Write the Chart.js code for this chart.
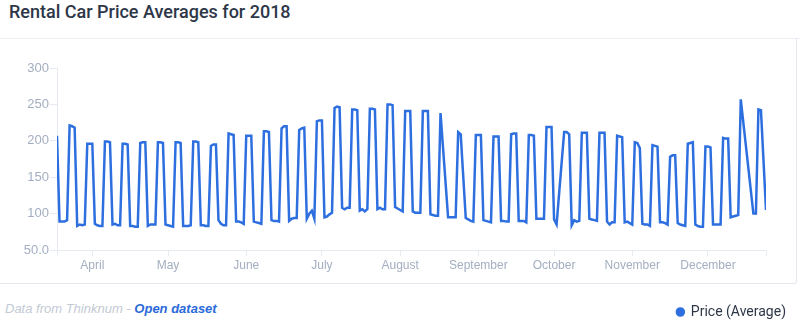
<!DOCTYPE html>
<html>
<head>
<meta charset="utf-8">
<script src="https://cdn.jsdelivr.net/npm/chart.js@4/dist/chart.umd.min.js"></script>
<style>
  html, body { margin: 0; padding: 0; background: #fff; overflow: hidden; width: 800px; height: 323px; }
  #title { position: absolute; left: 9px; top: 1px; font: 500 18px Roboto, "Liberation Sans", sans-serif; line-height: 22px; color: #2d3748; white-space: nowrap; }
  #divider { position: absolute; left: 0; top: 38px; width: 800px; height: 1px; background: #edf0f4; }
  #card { position: absolute; left: 0; top: 38px; width: 796px; height: 245px; border-right: 1px solid #e4e8ee; border-bottom: 1px solid #e4e8ee; border-bottom-right-radius: 3px; box-sizing: content-box; }
  #footer { position: absolute; left: 5px; top: 301px; font: italic 13px "Liberation Sans", Arial, sans-serif; line-height: 15px; color: #c3cad5; white-space: nowrap; }
  #footer b { color: #2a6ad9; font-weight: bold; }
  #wrap { position: absolute; left: 0; top: 38px; width: 800px; height: 291px; }
</style>
</head>
<body>
<div id="title">Rental Car Price Averages for 2018</div>
<div id="divider"></div>
<div id="card"></div>
<div id="footer">Data from Thinknum - <b>Open dataset</b></div>
<div id="wrap"><canvas id="c" width="800" height="291"></canvas></div>
<script>
// ---- data (2018, daily; days without data are simply absent) ----
const dates = [
  '03-18','03-19','03-20','03-21','03-22','03-23','03-24','03-25','03-26','03-27','03-28','03-29','03-30','03-31',
  '04-01','04-02','04-03','04-04','04-05','04-06','04-07','04-08','04-09','04-10','04-11','04-12','04-13','04-14','04-15',
  '04-16','04-17','04-18','04-19','04-20','04-21','04-22','04-23','04-24','04-25','04-26','04-27','04-28','04-29','04-30',
  '05-01','05-02','05-03','05-04','05-05','05-06','05-07','05-08','05-09','05-10','05-11','05-12','05-13','05-14','05-15',
  '05-16','05-17','05-18','05-19','05-20','05-21','05-22','05-23','05-24','05-25','05-26','05-27','05-28','05-29','05-30','05-31',
  '06-01','06-02','06-03','06-04','06-05','06-06','06-07','06-08','06-09','06-10','06-11','06-12','06-13','06-14','06-15',
  '06-16','06-17','06-18','06-19','06-20','06-21','06-22','06-23','06-24','06-25','06-26','06-27','06-28','06-29','06-30',
  '07-01','07-02','07-03','07-04','07-05','07-06','07-07','07-08','07-09','07-10','07-11','07-12','07-13','07-14','07-15',
  '07-16','07-17','07-18','07-19','07-20','07-21','07-22','07-23','07-24','07-25','07-26','07-27','07-28','07-29','07-30','07-31',
  '08-01','08-02','08-03','08-04','08-05','08-06','08-07','08-08','08-09','08-10','08-11','08-12','08-13','08-14','08-15',
  '08-16','08-17','08-20','08-21','08-22','08-23','08-24','08-25','08-27','08-28','08-29','08-30','08-31',
  '09-01','09-02','09-03','09-04','09-05','09-06','09-07','09-08','09-09','09-10','09-11','09-12','09-13','09-14','09-15',
  '09-16','09-17','09-18','09-19','09-20','09-21','09-22','09-23','09-24','09-25','09-26','09-27','09-28','09-29','09-30',
  '10-01','10-02','10-05','10-06','10-07','10-08','10-09','10-10','10-11','10-12','10-13','10-14','10-15',
  '10-16','10-17','10-18','10-19','10-20','10-21','10-22','10-23','10-24','10-25','10-26','10-27','10-28','10-29','10-30','10-31',
  '11-01','11-02','11-03','11-04','11-05','11-06','11-07','11-08','11-09','11-10','11-11','11-12','11-13','11-14','11-15',
  '11-16','11-17','11-18','11-19','11-20','11-21','11-22','11-23','11-24','11-25','11-26','11-27','11-28','11-29','11-30',
  '12-01','12-02','12-03','12-04','12-05','12-06','12-07','12-08','12-09','12-10','12-11','12-12','12-13','12-14',
  '12-19','12-20','12-21','12-22','12-24'
];
const prices = [
  207,89,89,89,91,221,220,218,83,85,84,85,196,196,
  196,86,84,83,83,199,199,198,85,86,84,84,196,196,195,
  83,83,82,82,197,198,198,83,85,85,85,198,198,197,85,
  84,83,82,198,198,197,83,83,83,84,199,199,198,84,84,
  83,83,193,195,195,91,86,84,84,210,209,208,89,89,88,86,
  207,207,207,89,88,87,86,213,213,212,91,90,90,89,217,
  220,220,90,93,94,94,215,217,218,93,100,104,93,227,228,
  228,95,96,99,101,245,247,246,108,106,108,108,243,243,242,
  104,106,103,106,244,244,243,106,108,106,106,250,250,249,109,107,
  105,103,241,241,241,103,101,101,101,241,241,241,99,98,97,
  97,238,95,95,95,95,212,209,94,92,90,89,208,
  208,208,91,90,89,88,206,206,206,90,90,89,89,209,210,
  210,90,90,90,88,208,208,207,93,93,93,93,219,219,219,
  92,85,212,212,209,84,91,89,90,211,211,211,93,
  92,91,90,211,211,211,89,85,88,88,207,206,205,88,89,87,
  85,198,197,190,86,85,85,83,194,193,192,88,88,87,85,
  178,180,180,87,85,84,83,196,197,198,85,83,82,82,192,
  192,191,85,85,85,85,204,203,203,95,96,97,98,257,
  100,100,243,242,105
];
const seriesLabel = 'Price (Average)';
const monthNames = ['April','May','June','July','August','September','October','November','December'];
const monthStarts = ['04-01','05-01','06-01','07-01','08-01','09-01','10-01','11-01','12-01'];
const yTicks = [50, 100, 150, 200, 250, 300];

// day-of-year helper (2018)
function doy(md) {
  const [m, d] = md.split('-').map(Number);
  return Math.round((Date.UTC(2018, m - 1, d) - Date.UTC(2018, 0, 1)) / 86400000) + 1;
}
const points = dates.map((d, i) => ({ x: doy(d), y: prices[i] }));
const monthDays = monthStarts.map(doy);
const xMin = points[0].x, xMax = points[points.length - 1].x;

const tickColor = '#a3aec0';
const lineColor = '#e6ebf1';

new Chart(document.getElementById('c'), {
  type: 'line',
  data: {
    datasets: [{
      label: seriesLabel,
      data: points,
      borderColor: '#2e6fe0',
      backgroundColor: '#2e6fe0',
      borderWidth: 2.5,
      pointRadius: 0,
      tension: 0,
      fill: false
    }]
  },
  options: {
    responsive: false,
    animation: false,
    layout: { padding: { top: 30, right: 0, bottom: 0, left: 0 } },
    plugins: {
      legend: {
        position: 'bottom',
        align: 'end',
        labels: {
          usePointStyle: true,
          pointStyle: 'circle',
          boxHeight: 5,
          pointStyleWidth: 7,
          padding: 14,
          color: '#2d3748',
          font: { family: 'Roboto, "Liberation Sans", sans-serif', size: 14 }
        }
      },
      tooltip: { enabled: false }
    },
    scales: {
      x: {
        type: 'linear',
        min: xMin,
        max: xMax,
        afterBuildTicks: (s) => {
          s.ticks = [{ value: xMin }].concat(monthDays.map(v => ({ value: v }))).concat([{ value: xMax }]);
        },
        afterFit: (s) => { s.height = 41; },
        ticks: {
          autoSkip: false,
          maxRotation: 0,
          padding: 2,
          color: tickColor,
          font: { family: '"Liberation Sans", Arial, sans-serif', size: 12 },
          callback: (v) => { const i = monthDays.indexOf(v); return i >= 0 ? monthNames[i] : ''; }
        },
        grid: { drawOnChartArea: false, drawTicks: true, tickLength: 6, color: lineColor },
        border: { color: lineColor }
      },
      y: {
        min: 50,
        max: 300,
        afterBuildTicks: (s) => { s.ticks = yTicks.map(v => ({ value: v })); },
        afterFit: (s) => { s.width = 57; },
        ticks: {
          padding: 1,
          color: tickColor,
          font: { family: '"Liberation Sans", Arial, sans-serif', size: 13 },
          callback: (v) => v === 50 ? '50.0' : String(v)
        },
        grid: { drawOnChartArea: false, drawTicks: true, tickLength: 7, color: lineColor },
        border: { color: lineColor }
      },
      yRight: {
        position: 'right',
        display: true,
        afterFit: (s) => { s.width = 34; },
        ticks: { display: false },
        grid: { display: false },
        border: { display: false }
      }
    }
  }
});
</script>
</body>
</html>
